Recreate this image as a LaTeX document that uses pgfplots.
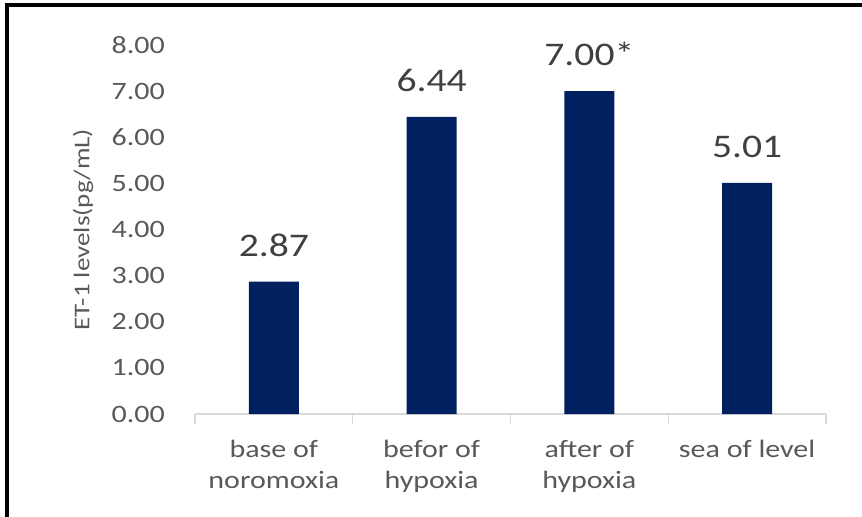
\documentclass[border=0pt]{standalone}
\usepackage{fontspec}
\setmainfont{Carlito}[FakeStretch=1.2]
\usepackage{pgfplots}
\pgfplotsset{compat=1.18}

\definecolor{barblue}{HTML}{002060}
\definecolor{tickgray}{HTML}{595959}
\definecolor{labgray}{HTML}{404040}
\definecolor{axgray}{HTML}{D9D9D9}

\begin{document}
\begin{tikzpicture}
\begin{axis}[
    at={(0,0)}, anchor=south west,
    scale only axis,
    width=631bp, height=369bp,
    ybar, bar width=50bp,
    xmin=-0.5, xmax=3.5,
    ymin=0, ymax=8,
    ytick={0,1,...,8},
    xtick={0,1,2,3},
    xticklabels={{base of\\noromoxia},{befor of\\hypoxia},{after of\\hypoxia},{sea of level}},
    minor xtick={-0.5,0.5,1.5,2.5,3.5},
    axis x line*=bottom, axis y line*=left,
    x axis line style={draw=axgray, line width=1.3bp},
    y axis line style={draw=none},
    major tick length=0pt,
    minor tick length=10bp,
    tick align=outside,
    minor x tick style={draw=axgray, line width=1.3bp},
    xtick style={draw=none}, ytick style={draw=none},
    /pgf/number format/.cd, fixed, fixed zerofill, precision=2, assume math mode=true,
    /pgfplots/.cd,
    yticklabel style={font=\fontsize{25bp}{30bp}\selectfont, text=tickgray,
        anchor=east, inner sep=0pt, xshift=-30bp},
    xticklabel style={font=\fontsize{25bp}{31bp}\selectfont, text=tickgray,
        align=center, anchor=north, inner sep=0pt, yshift=-26bp},
    every axis y label/.style={at={(axis description cs:-0.1775,0.5)},
        rotate=90, anchor=center, inner sep=0pt,
        font=\fontsize{22.5bp}{27bp}\selectfont, text=tickgray},
    ylabel={ET-1 levels(pg/mL)},
    point meta=explicit symbolic,
    nodes near coords={\pgfplotspointmeta},
    every node near coord/.append style={anchor=south, inner sep=0pt, yshift=25bp,
        font=\fontsize{33bp}{38bp}\selectfont, text=labgray},
]
\addplot[fill=barblue, draw=none] coordinates {
    (0,2.87) [2.87]
    (1,6.44) [6.44]
    (2,7.00) [7.00*]
    (3,5.01) [5.01]
};
\end{axis}
\draw[black, line width=4bp] (-188bp,-103bp) -- (-188bp,409bp) -- (667bp,409bp);
\pgfresetboundingbox
\path[use as bounding box] (-195bp,-103bp) rectangle (667bp,414bp);
\end{tikzpicture}
\end{document}
